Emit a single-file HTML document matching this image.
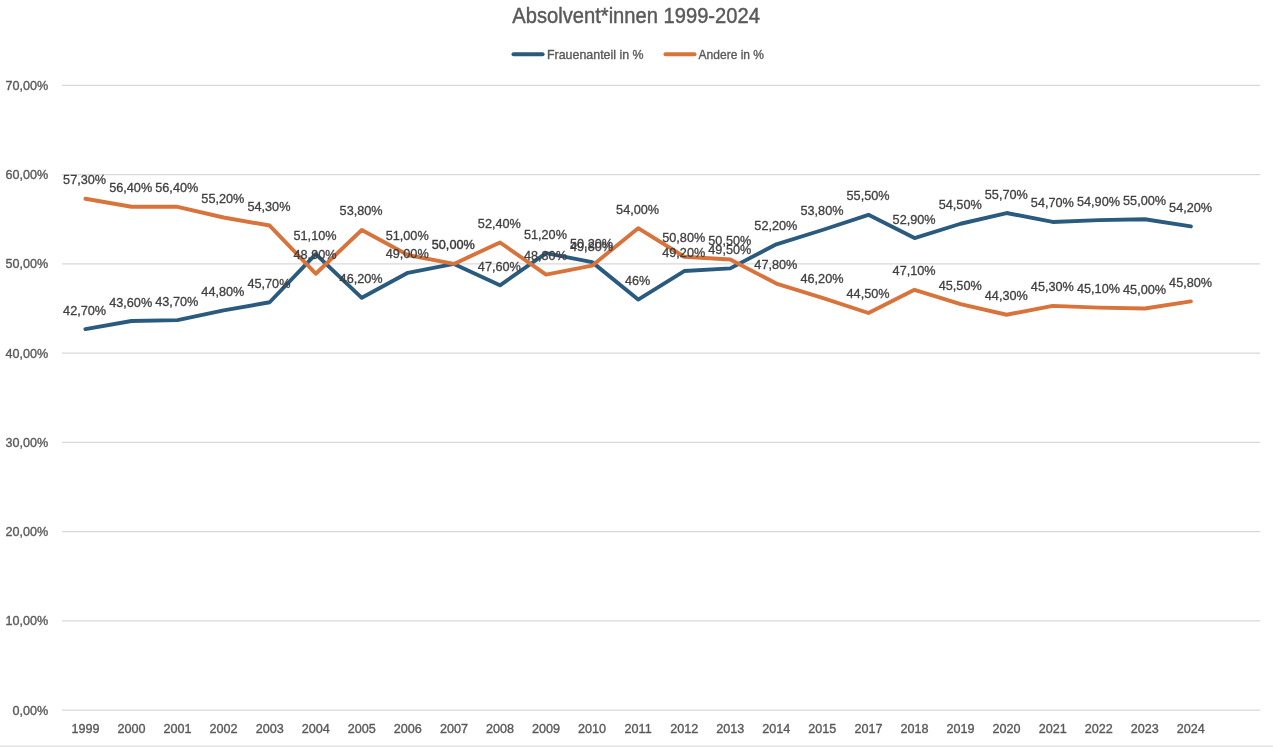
<!DOCTYPE html>
<html><head><meta charset="utf-8"><title>Absolvent*innen 1999-2024</title>
<style>
html,body{margin:0;padding:0;background:#fff;width:1273px;height:747px;overflow:hidden}
svg{display:block;will-change:transform;}
.l{stroke:#404040;stroke-width:0.3px;}
.a{stroke:#595959;stroke-width:0.35px;}
.d{stroke-width:0.4px;fill:#383838;stroke:#383838}
svg{font-family:"Liberation Sans", sans-serif}
</style></head><body>
<svg width="1273" height="747" viewBox="0 0 1273 747">
<rect width="1273" height="747" fill="#fff"/>
<rect x="0" y="745.5" width="1273" height="1.5" fill="#e3e3e3"/>
<line x1="62.0" y1="710.10" x2="1260.2" y2="710.10" stroke="#d9d9d9" stroke-width="1.3"/>
<line x1="62.0" y1="620.86" x2="1260.2" y2="620.86" stroke="#d9d9d9" stroke-width="1.3"/>
<line x1="62.0" y1="531.62" x2="1260.2" y2="531.62" stroke="#d9d9d9" stroke-width="1.3"/>
<line x1="62.0" y1="442.38" x2="1260.2" y2="442.38" stroke="#d9d9d9" stroke-width="1.3"/>
<line x1="62.0" y1="353.14" x2="1260.2" y2="353.14" stroke="#d9d9d9" stroke-width="1.3"/>
<line x1="62.0" y1="263.90" x2="1260.2" y2="263.90" stroke="#d9d9d9" stroke-width="1.3"/>
<line x1="62.0" y1="174.66" x2="1260.2" y2="174.66" stroke="#d9d9d9" stroke-width="1.3"/>
<line x1="62.0" y1="85.42" x2="1260.2" y2="85.42" stroke="#d9d9d9" stroke-width="1.3"/>
<text x="48.3" y="714.60" class="a" text-anchor="end" font-size="12.6" fill="#595959">0,00%</text>
<text x="48.3" y="625.36" class="a" text-anchor="end" font-size="12.6" fill="#595959">10,00%</text>
<text x="48.3" y="536.12" class="a" text-anchor="end" font-size="12.6" fill="#595959">20,00%</text>
<text x="48.3" y="446.88" class="a" text-anchor="end" font-size="12.6" fill="#595959">30,00%</text>
<text x="48.3" y="357.64" class="a" text-anchor="end" font-size="12.6" fill="#595959">40,00%</text>
<text x="48.3" y="268.40" class="a" text-anchor="end" font-size="12.6" fill="#595959">50,00%</text>
<text x="48.3" y="179.16" class="a" text-anchor="end" font-size="12.6" fill="#595959">60,00%</text>
<text x="48.3" y="89.92" class="a" text-anchor="end" font-size="12.6" fill="#595959">70,00%</text>
<text x="85.43" y="733.2" class="a" text-anchor="middle" font-size="12.6" fill="#595959">1999</text>
<text x="131.49" y="733.2" class="a" text-anchor="middle" font-size="12.6" fill="#595959">2000</text>
<text x="177.55" y="733.2" class="a" text-anchor="middle" font-size="12.6" fill="#595959">2001</text>
<text x="223.61" y="733.2" class="a" text-anchor="middle" font-size="12.6" fill="#595959">2002</text>
<text x="269.67" y="733.2" class="a" text-anchor="middle" font-size="12.6" fill="#595959">2003</text>
<text x="315.73" y="733.2" class="a" text-anchor="middle" font-size="12.6" fill="#595959">2004</text>
<text x="361.79" y="733.2" class="a" text-anchor="middle" font-size="12.6" fill="#595959">2005</text>
<text x="407.85" y="733.2" class="a" text-anchor="middle" font-size="12.6" fill="#595959">2006</text>
<text x="453.91" y="733.2" class="a" text-anchor="middle" font-size="12.6" fill="#595959">2007</text>
<text x="499.97" y="733.2" class="a" text-anchor="middle" font-size="12.6" fill="#595959">2008</text>
<text x="546.03" y="733.2" class="a" text-anchor="middle" font-size="12.6" fill="#595959">2009</text>
<text x="592.09" y="733.2" class="a" text-anchor="middle" font-size="12.6" fill="#595959">2010</text>
<text x="638.15" y="733.2" class="a" text-anchor="middle" font-size="12.6" fill="#595959">2011</text>
<text x="684.21" y="733.2" class="a" text-anchor="middle" font-size="12.6" fill="#595959">2012</text>
<text x="730.27" y="733.2" class="a" text-anchor="middle" font-size="12.6" fill="#595959">2013</text>
<text x="776.33" y="733.2" class="a" text-anchor="middle" font-size="12.6" fill="#595959">2014</text>
<text x="822.39" y="733.2" class="a" text-anchor="middle" font-size="12.6" fill="#595959">2015</text>
<text x="868.45" y="733.2" class="a" text-anchor="middle" font-size="12.6" fill="#595959">2017</text>
<text x="914.51" y="733.2" class="a" text-anchor="middle" font-size="12.6" fill="#595959">2018</text>
<text x="960.57" y="733.2" class="a" text-anchor="middle" font-size="12.6" fill="#595959">2019</text>
<text x="1006.63" y="733.2" class="a" text-anchor="middle" font-size="12.6" fill="#595959">2020</text>
<text x="1052.69" y="733.2" class="a" text-anchor="middle" font-size="12.6" fill="#595959">2021</text>
<text x="1098.75" y="733.2" class="a" text-anchor="middle" font-size="12.6" fill="#595959">2022</text>
<text x="1144.81" y="733.2" class="a" text-anchor="middle" font-size="12.6" fill="#595959">2023</text>
<text x="1190.87" y="733.2" class="a" text-anchor="middle" font-size="12.6" fill="#595959">2024</text>
<path d="M85.43,329.05 L131.49,321.01 L177.55,320.12 L223.61,310.30 L269.67,302.27 L315.73,254.08 L361.79,297.81 L407.85,272.82 L453.91,263.90 L499.97,285.32 L546.03,253.19 L592.09,262.12 L638.15,299.60 L684.21,271.04 L730.27,268.36 L776.33,244.27 L822.39,229.99 L868.45,214.82 L914.51,238.02 L960.57,223.74 L1006.63,213.03 L1052.69,221.96 L1098.75,220.17 L1144.81,219.28 L1190.87,226.42" fill="none" stroke="#2a5b7e" stroke-width="3.9" stroke-linejoin="round" stroke-linecap="round"/>
<path d="M85.43,198.75 L131.49,206.79 L177.55,206.79 L223.61,217.50 L269.67,225.53 L315.73,273.72 L361.79,229.99 L407.85,254.98 L453.91,263.90 L499.97,242.48 L546.03,274.61 L592.09,265.68 L638.15,228.20 L684.21,256.76 L730.27,259.44 L776.33,283.53 L822.39,297.81 L868.45,312.98 L914.51,289.78 L960.57,304.06 L1006.63,314.77 L1052.69,305.84 L1098.75,307.63 L1144.81,308.52 L1190.87,301.38" fill="none" stroke="#d7733b" stroke-width="3.9" stroke-linejoin="round" stroke-linecap="round"/>
<text x="84.60" y="314.55" class="l" text-anchor="middle" font-size="12.7" fill="#404040">42,70%</text>
<text x="130.69" y="306.51" class="l" text-anchor="middle" font-size="12.7" fill="#404040">43,60%</text>
<text x="176.77" y="305.62" class="l" text-anchor="middle" font-size="12.7" fill="#404040">43,70%</text>
<text x="222.85" y="295.80" class="l" text-anchor="middle" font-size="12.7" fill="#404040">44,80%</text>
<text x="268.94" y="287.77" class="l" text-anchor="middle" font-size="12.7" fill="#404040">45,70%</text>
<text x="315.02" y="239.58" class="l" text-anchor="middle" font-size="12.7" fill="#404040">51,10%</text>
<text x="361.11" y="283.31" class="l" text-anchor="middle" font-size="12.7" fill="#404040">46,20%</text>
<text x="407.20" y="258.32" class="l" text-anchor="middle" font-size="12.7" fill="#404040">49,00%</text>
<text x="453.28" y="249.40" class="l d" text-anchor="middle" font-size="12.7" fill="#404040">50,00%</text>
<text x="499.37" y="270.82" class="l" text-anchor="middle" font-size="12.7" fill="#404040">47,60%</text>
<text x="545.45" y="238.69" class="l" text-anchor="middle" font-size="12.7" fill="#404040">51,20%</text>
<text x="591.53" y="247.62" class="l" text-anchor="middle" font-size="12.7" fill="#404040">50,20%</text>
<text x="637.62" y="285.10" class="l" text-anchor="middle" font-size="12.7" fill="#404040">46%</text>
<text x="683.71" y="256.54" class="l" text-anchor="middle" font-size="12.7" fill="#404040">49,20%</text>
<text x="729.79" y="253.86" class="l" text-anchor="middle" font-size="12.7" fill="#404040">49,50%</text>
<text x="775.88" y="229.77" class="l" text-anchor="middle" font-size="12.7" fill="#404040">52,20%</text>
<text x="821.96" y="215.49" class="l" text-anchor="middle" font-size="12.7" fill="#404040">53,80%</text>
<text x="868.05" y="200.32" class="l" text-anchor="middle" font-size="12.7" fill="#404040">55,50%</text>
<text x="914.13" y="223.52" class="l" text-anchor="middle" font-size="12.7" fill="#404040">52,90%</text>
<text x="960.22" y="209.24" class="l" text-anchor="middle" font-size="12.7" fill="#404040">54,50%</text>
<text x="1006.30" y="198.53" class="l" text-anchor="middle" font-size="12.7" fill="#404040">55,70%</text>
<text x="1052.38" y="207.46" class="l" text-anchor="middle" font-size="12.7" fill="#404040">54,70%</text>
<text x="1098.47" y="205.67" class="l" text-anchor="middle" font-size="12.7" fill="#404040">54,90%</text>
<text x="1144.55" y="204.78" class="l" text-anchor="middle" font-size="12.7" fill="#404040">55,00%</text>
<text x="1190.64" y="211.92" class="l" text-anchor="middle" font-size="12.7" fill="#404040">54,20%</text>
<text x="84.60" y="184.25" class="l" text-anchor="middle" font-size="12.7" fill="#404040">57,30%</text>
<text x="130.69" y="192.29" class="l" text-anchor="middle" font-size="12.7" fill="#404040">56,40%</text>
<text x="176.77" y="192.29" class="l" text-anchor="middle" font-size="12.7" fill="#404040">56,40%</text>
<text x="222.85" y="203.00" class="l" text-anchor="middle" font-size="12.7" fill="#404040">55,20%</text>
<text x="268.94" y="211.03" class="l" text-anchor="middle" font-size="12.7" fill="#404040">54,30%</text>
<text x="315.02" y="259.22" class="l" text-anchor="middle" font-size="12.7" fill="#404040">48,90%</text>
<text x="361.11" y="215.49" class="l" text-anchor="middle" font-size="12.7" fill="#404040">53,80%</text>
<text x="407.20" y="240.48" class="l" text-anchor="middle" font-size="12.7" fill="#404040">51,00%</text>
<text x="499.37" y="227.98" class="l" text-anchor="middle" font-size="12.7" fill="#404040">52,40%</text>
<text x="545.45" y="260.11" class="l" text-anchor="middle" font-size="12.7" fill="#404040">48,80%</text>
<text x="591.53" y="251.18" class="l" text-anchor="middle" font-size="12.7" fill="#404040">49,80%</text>
<text x="637.62" y="213.70" class="l" text-anchor="middle" font-size="12.7" fill="#404040">54,00%</text>
<text x="683.71" y="242.26" class="l" text-anchor="middle" font-size="12.7" fill="#404040">50,80%</text>
<text x="729.79" y="244.94" class="l" text-anchor="middle" font-size="12.7" fill="#404040">50,50%</text>
<text x="775.88" y="269.03" class="l" text-anchor="middle" font-size="12.7" fill="#404040">47,80%</text>
<text x="821.96" y="283.31" class="l" text-anchor="middle" font-size="12.7" fill="#404040">46,20%</text>
<text x="868.05" y="298.48" class="l" text-anchor="middle" font-size="12.7" fill="#404040">44,50%</text>
<text x="914.13" y="275.28" class="l" text-anchor="middle" font-size="12.7" fill="#404040">47,10%</text>
<text x="960.22" y="289.56" class="l" text-anchor="middle" font-size="12.7" fill="#404040">45,50%</text>
<text x="1006.30" y="300.27" class="l" text-anchor="middle" font-size="12.7" fill="#404040">44,30%</text>
<text x="1052.38" y="291.34" class="l" text-anchor="middle" font-size="12.7" fill="#404040">45,30%</text>
<text x="1098.47" y="293.13" class="l" text-anchor="middle" font-size="12.7" fill="#404040">45,10%</text>
<text x="1144.55" y="294.02" class="l" text-anchor="middle" font-size="12.7" fill="#404040">45,00%</text>
<text x="1190.64" y="286.88" class="l" text-anchor="middle" font-size="12.7" fill="#404040">45,80%</text>
<text x="512.3" y="22.8" font-size="22" textLength="247.6" lengthAdjust="spacingAndGlyphs" fill="#595959" stroke="#595959" stroke-width="0.45">Absolvent*innen 1999-2024</text>
<line x1="513.5" y1="54.3" x2="542.6" y2="54.3" stroke="#2a5b7e" stroke-width="4" stroke-linecap="round"/>
<text x="547" y="58.6" class="a" font-size="12.6" textLength="96.6" lengthAdjust="spacingAndGlyphs" fill="#595959">Frauenanteil in %</text>
<line x1="665.5" y1="54.3" x2="694.5" y2="54.3" stroke="#d7733b" stroke-width="4" stroke-linecap="round"/>
<text x="698.6" y="58.6" class="a" font-size="12.6" textLength="65.4" lengthAdjust="spacingAndGlyphs" fill="#595959">Andere in %</text>
</svg>
</body></html>
